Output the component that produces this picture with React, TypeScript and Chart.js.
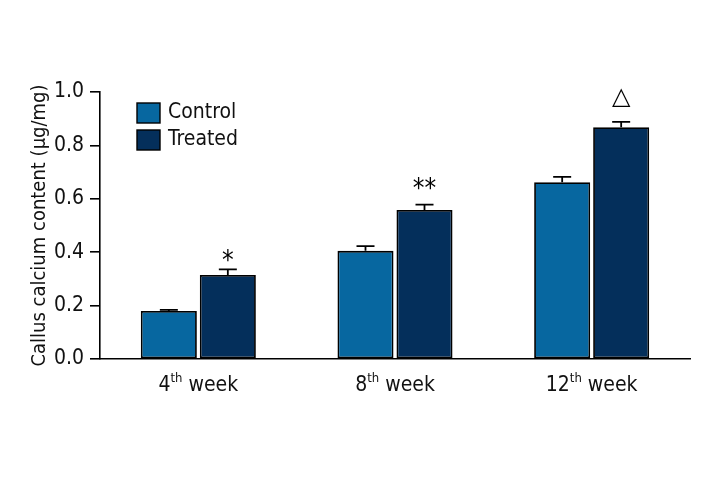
import React, { useEffect, useRef } from "react";
import { Chart, registerables } from "chart.js";

Chart.register(...registerables);

const categories = ["4", "8", "12"];
const categorySuffix = ["th", "th", "th"];
const categoryWord = " week";
const controlValues = [0.18, 0.405, 0.662];
const controlErrors = [0.004, 0.018, 0.02];
const treatedValues = [0.315, 0.558, 0.868];
const treatedErrors = [0.021, 0.02, 0.02];
const treatedMarks = ["*", "**", "△"];
const yTicks = [0, 0.2, 0.4, 0.6, 0.8, 1.0];
const seriesNames = ["Control", "Treated"];
const yTitle = "Callus calcium content (μg/mg)";

const FONT = '"Liberation Sans Narrow", "DejaVu Sans Condensed", sans-serif';
const COLORS = ["#0767a0", "#042f5b"];

const errorPlugin = {
  id: "errorBars",
  afterDatasetsDraw(chart: any) {
    const ctx = chart.ctx;
    const errs = [controlErrors, treatedErrors];
    const y = chart.scales.y;
    ctx.save();
    ctx.strokeStyle = "#000";
    ctx.lineWidth = 1.8;
    chart.data.datasets.forEach((ds: any, di: number) => {
      const meta = chart.getDatasetMeta(di);
      meta.data.forEach((bar: any, i: number) => {
        const top = y.getPixelForValue(ds.data[i] + errs[di][i]);
        ctx.beginPath();
        ctx.moveTo(bar.x, bar.y);
        ctx.lineTo(bar.x, top);
        ctx.moveTo(bar.x - 9, top);
        ctx.lineTo(bar.x + 9, top);
        ctx.stroke();
        if (di === 1) {
          const m = treatedMarks[i];
          ctx.fillStyle = "#000";
          ctx.textAlign = "center";
          ctx.textBaseline = "middle";
          if (m === "△") {
            ctx.font = `24px "DejaVu Sans", sans-serif`;
            ctx.fillText(m, bar.x, top - 24);
          } else {
            ctx.font = `26px ${FONT}`;
            ctx.fillText(m, bar.x, top - (m.length > 1 ? 14 : 7));
          }
        }
      });
    });
    ctx.restore();
  },
};

const labelsPlugin = {
  id: "customLabels",
  afterDraw(chart: any) {
    const ctx = chart.ctx;
    const x = chart.scales.x;
    ctx.save();
    ctx.fillStyle = "#111";
    ctx.textBaseline = "alphabetic";
    categories.forEach((c, i) => {
      const cx = x.getPixelForValue(i);
      ctx.font = `21px ${FONT}`;
      const w1 = ctx.measureText(c).width;
      const w3 = ctx.measureText(categoryWord).width;
      ctx.font = `13px ${FONT}`;
      const w2 = ctx.measureText(categorySuffix[i]).width;
      const start = cx - (w1 + w2 + w3) / 2;
      const base = 391;
      ctx.textAlign = "left";
      ctx.font = `21px ${FONT}`;
      ctx.fillText(c, start, base);
      ctx.font = `13px ${FONT}`;
      ctx.fillText(categorySuffix[i], start + w1, base - 9);
      ctx.font = `21px ${FONT}`;
      ctx.fillText(categoryWord, start + w1 + w2, base);
    });
    const ds = chart.data.datasets;
    ds.forEach((d: any, i: number) => {
      const ty = 103 + i * 27;
      ctx.fillStyle = d.backgroundColor;
      ctx.fillRect(137, ty, 23, 20);
      ctx.strokeStyle = "#000";
      ctx.lineWidth = 1.4;
      ctx.strokeRect(137, ty, 23, 20);
      ctx.fillStyle = "#111";
      ctx.font = `21px ${FONT}`;
      ctx.textBaseline = "middle";
      ctx.textAlign = "left";
      ctx.fillText(d.label, 168, ty + 10);
    });
    ctx.restore();
  },
};

export default function App() {
  const ref = useRef<HTMLCanvasElement | null>(null);
  useEffect(() => {
    if (!ref.current) return;
    const chart = new Chart(ref.current, {
      type: "bar",
      data: {
        labels: categories.map((c, i) => c + categorySuffix[i] + categoryWord),
        datasets: [
          {
            label: seriesNames[0],
            data: controlValues,
            backgroundColor: COLORS[0],
            borderColor: "#000",
            borderWidth: 1.8,
            borderSkipped: false,
            categoryPercentage: 0.6,
            barPercentage: 0.95,
          },
          {
            label: seriesNames[1],
            data: treatedValues,
            backgroundColor: COLORS[1],
            borderColor: "#000",
            borderWidth: 1.8,
            borderSkipped: false,
            categoryPercentage: 0.6,
            barPercentage: 0.95,
          },
        ],
      },
      options: {
        animation: false,
        responsive: false,
        maintainAspectRatio: false,
        layout: { padding: { left: 28, right: 30, top: 92, bottom: 0 } },
        plugins: { legend: { display: false }, tooltip: { enabled: false } },
        scales: {
          x: {
            grid: { display: false, drawTicks: false },
            border: { display: true, color: "#000", width: 1.6 },
            ticks: { callback: () => "" },
            afterFit: (s: any) => {
              s.height = 121;
            },
          },
          y: {
            min: 0,
            max: 1,
            afterBuildTicks: (s: any) => {
              s.ticks = yTicks.map((v) => ({ value: v }));
            },
            grid: {
              drawOnChartArea: false,
              drawTicks: true,
              tickLength: 10,
              color: "#000",
              lineWidth: 1.6,
            },
            border: { display: true, color: "#000", width: 1.6 },
            ticks: {
              color: "#111",
              padding: 6,
              font: { family: FONT, size: 21 },
              callback: (v: any) => Number(v).toFixed(1),
            },
            title: {
              display: true,
              text: yTitle,
              color: "#111",
              font: { family: FONT, size: 20 },
              padding: { top: 0, bottom: 2 },
            },
            afterFit: (s: any) => {
              s.width = 72;
            },
          },
        },
      },
      plugins: [errorPlugin, labelsPlugin],
    });
    return () => chart.destroy();
  }, []);
  return (
    <div style={{ position: "absolute", left: 0, top: 0, width: 720, height: 480, background: "#fff" }}>
      <canvas ref={ref} width={720} height={480} />
    </div>
  );
}
